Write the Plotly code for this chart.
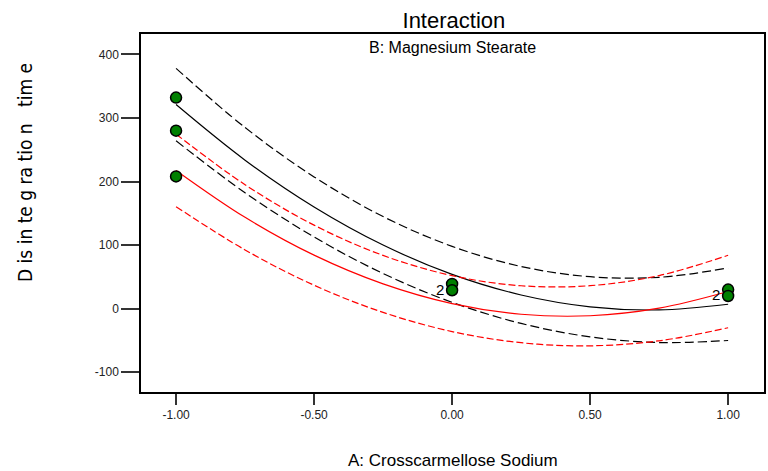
import plotly.graph_objects as go

# Factor A levels (coded) at which the fitted curves were read
a_levels = [-1.0, -0.75, -0.5, -0.25, 0.0, 0.25, 0.5, 0.75, 1.0]

# B- (black) prediction and 95% confidence band
b_low_pred = [321, 233.6, 160, 100.1, 54, 21.6, 3, -1.9, 7]
b_low_upper = [378, 284.9, 207.3, 144.9, 98, 66.4, 50.3, 49.4, 64]
b_low_lower = [264, 182.3, 112.8, 55.3, 10, -23.2, -44.3, -53.2, -50]

# B+ (red) prediction and 95% confidence band
b_high_pred = [217.5, 143.7, 84.2, 39.0, 8, -8.7, -11.1, 0.8, 27]
b_high_upper = [274.5, 195, 131.4, 83.8, 52, 36.1, 36.2, 52.1, 84]
b_high_lower = [160.5, 92.4, 36.9, -5.8, -36, -53.5, -58.4, -50.5, -30]

# Design points (observed disintegration times)
run_a = [-1, -1, -1, 0, 0, 1, 1]
run_y = [332, 280, 208, 39, 29, 30, 20]

# Replicate counts shown beside points
rep_a = [0, 1]
rep_y = [30, 23]
rep_label = ["2", "2"]

x_ticks = [-1.0, -0.5, 0.0, 0.5, 1.0]
x_tick_text = ["-1.00", "-0.50", "0.00", "0.50", "1.00"]
y_ticks = [-100, 0, 100, 200, 300, 400]
y_tick_text = ["-100", "0", "100", "200", "300", "400"]

BLACK = "#000000"
RED = "#ff0000"
SANS = "Liberation Sans, Arial, sans-serif"

fig = go.Figure()


def add_curve(y, color, dash):
    fig.add_trace(go.Scatter(
        x=a_levels, y=y, mode="lines",
        line=dict(color=color, width=1.2, dash=dash, shape="spline", smoothing=1.0),
        showlegend=False, hoverinfo="skip",
    ))


add_curve(b_low_upper, BLACK, "9px,4px")
add_curve(b_low_lower, BLACK, "9px,4px")
add_curve(b_low_pred, BLACK, "solid")
add_curve(b_high_upper, RED, "7px,3px")
add_curve(b_high_lower, RED, "7px,3px")
add_curve(b_high_pred, RED, "solid")

fig.add_trace(go.Scatter(
    x=run_a, y=run_y, mode="markers",
    marker=dict(symbol="circle", size=11, color="#008000",
                line=dict(color=BLACK, width=1.5)),
    showlegend=False, hoverinfo="skip",
))

axis_font = dict(family=SANS, size=12, color="#222222")

annotations = [
    dict(text="B: Magnesium Stearate", xref="paper", yref="paper",
         x=0.5, y=0.961, xanchor="center", yanchor="middle", showarrow=False,
         font=dict(family=SANS, size=16, color=BLACK)),
    dict(text="A: Crosscarmellose Sodium", xref="paper", yref="paper",
         x=0.5, y=-0.19, xanchor="center", yanchor="middle", showarrow=False,
         font=dict(family=SANS, size=17, color=BLACK)),
    dict(text="D is in te g ra tio n   tim e", xref="paper", yref="paper",
         x=-0.186, y=0.612, xanchor="center", yanchor="middle", showarrow=False,
         textangle=-90,
         font=dict(family="Liberation Sans Narrow, DejaVu Sans Condensed, Arial Narrow, sans-serif",
                   size=19, color=BLACK)),
]

# replicate count labels to the left of the stacked points
for xa, ya, lab in zip(rep_a, rep_y, rep_label):
    annotations.append(dict(
        text=lab, x=xa, y=ya, xref="x", yref="y", showarrow=False,
        xanchor="right", yanchor="middle", xshift=-6,
        font=dict(family=SANS, size=15, color=BLACK),
    ))

fig.update_layout(
    width=768, height=471,
    margin=dict(l=141, r=2, t=34, b=79),
    paper_bgcolor="white", plot_bgcolor="white",
    title=dict(text="Interaction", x=0.591, xanchor="center",
               y=0.957, yanchor="middle", yref="container",
               font=dict(family=SANS, size=22, color=BLACK)),
    xaxis=dict(range=[-1.127, 1.13], tickvals=x_ticks, ticktext=x_tick_text,
               showgrid=False, zeroline=False, showline=True, mirror=True,
               linecolor=BLACK, linewidth=1.5, ticks="outside", ticklen=11,
               tickwidth=1.5, tickcolor="#333333", tickfont=axis_font),
    yaxis=dict(range=[-131, 432], tickvals=y_ticks, ticktext=y_tick_text,
               showgrid=False, zeroline=False, showline=True, mirror=True,
               linecolor=BLACK, linewidth=1.5, ticks="outside", ticklen=18,
               tickwidth=1.5, tickcolor="#333333", tickfont=axis_font),
    annotations=annotations,
)

fig.write_html("out.html")
